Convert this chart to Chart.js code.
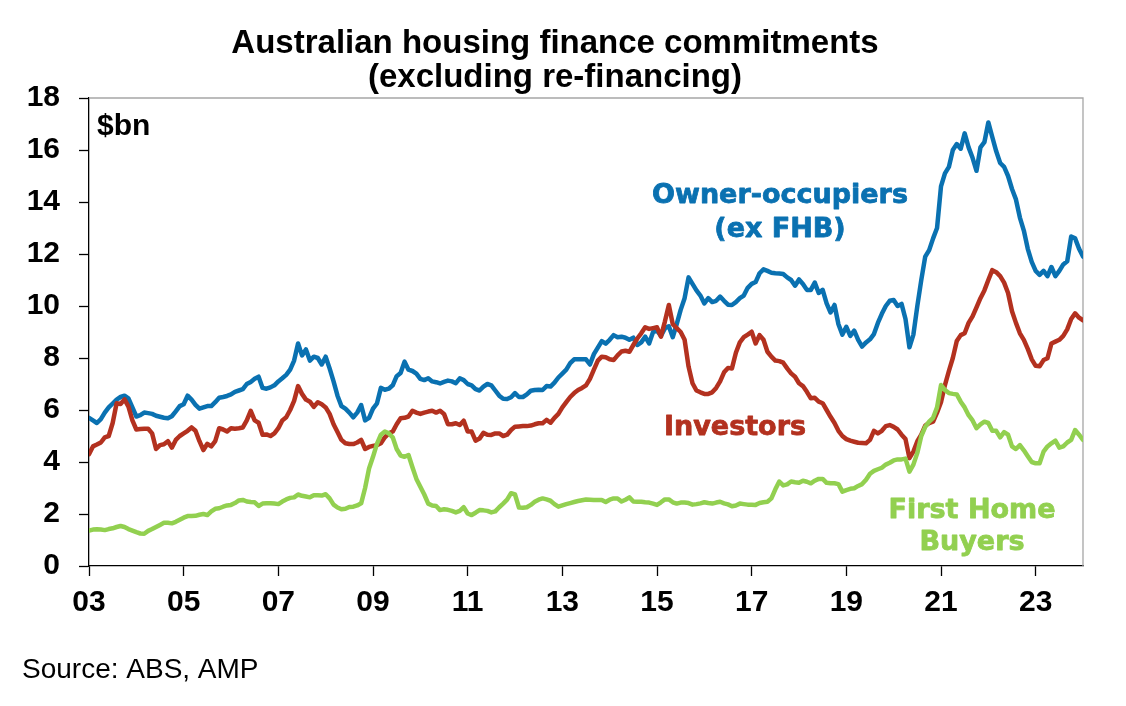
<!DOCTYPE html>
<html>
<head>
<meta charset="utf-8">
<script src="https://cdn.jsdelivr.net/npm/chart.js@4.4.1/dist/chart.umd.min.js"></script>
<style>
  html, body { margin: 0; padding: 0; background: #ffffff; }
  #wrap { width: 1126px; height: 706px; position: relative; }
</style>
</head>
<body>
<div id="wrap"><canvas id="chart" width="1126" height="706"></canvas></div>
<script>
// ---- Data (monthly, Jan 2003 .. Jan 2024, $bn) ----
const startYear = 2003;
const xTickYears = [2003, 2005, 2007, 2009, 2011, 2013, 2015, 2017, 2019, 2021, 2023];
const yTickValues = [0, 2, 4, 6, 8, 10, 12, 14, 16, 18];

const titleLines = ['Australian housing finance commitments', '(excluding re-financing)'];
const seriesNames = ['Owner-occupiers (ex FHB)', 'Investors', 'First Home Buyers'];

const ownerOccupiers = [
  5.7,5.6,5.5,5.65,5.9,6.1,6.25,6.4,6.5,6.55,6.45,6.1,
  5.75,5.8,5.9,5.88,5.85,5.78,5.74,5.7,5.68,5.76,5.95,6.15,
  6.22,6.55,6.4,6.2,6.05,6.1,6.15,6.15,6.3,6.47,6.5,6.54,
  6.6,6.7,6.75,6.8,7.0,7.08,7.2,7.28,6.85,6.82,6.87,6.95,
  7.1,7.22,7.35,7.55,7.9,8.56,8.1,8.33,7.9,8.05,8.0,7.75,
  8.05,7.6,7.1,6.55,6.15,6.05,5.9,5.72,5.9,6.19,5.6,5.7,
  6.05,6.25,6.85,6.78,6.82,6.95,7.3,7.42,7.86,7.55,7.5,7.4,
  7.2,7.15,7.22,7.1,7.07,7.02,7.08,7.13,7.1,7.03,7.22,7.15,
  7.0,6.95,6.8,6.75,6.9,7.0,6.95,6.75,6.55,6.43,6.42,6.49,
  6.65,6.5,6.5,6.6,6.74,6.77,6.78,6.77,6.92,6.9,7.05,7.25,
  7.4,7.55,7.8,7.95,7.95,7.95,7.95,7.75,8.15,8.4,8.65,8.55,
  8.7,8.88,8.8,8.82,8.78,8.7,8.78,8.5,8.6,8.82,8.56,9.0,
  9.05,8.85,9.14,9.22,8.8,9.3,9.85,10.3,11.1,10.85,10.6,10.4,
  10.1,10.3,10.15,10.2,10.36,10.2,10.05,10.04,10.15,10.3,10.4,10.7,
  10.85,10.92,11.26,11.41,11.35,11.28,11.26,11.25,11.23,11.1,11.0,10.78,
  11.02,10.85,10.62,10.62,10.9,10.5,10.62,10.1,9.75,10.04,9.3,8.9,
  9.2,8.85,9.05,8.7,8.44,8.6,8.72,8.92,9.35,9.7,10.0,10.2,
  10.23,10.0,10.08,9.5,8.41,8.9,10.0,11.0,11.9,12.15,12.6,13.0,
  14.6,15.1,15.35,16.0,16.23,16.05,16.64,16.1,15.7,15.2,16.1,16.3,
  17.06,16.5,15.95,15.5,15.35,15.0,14.5,14.1,13.4,12.9,12.2,11.7,
  11.35,11.2,11.35,11.15,11.5,11.15,11.35,11.6,11.72,12.67,12.6,12.2,
  11.9
];

const investors = [
  4.3,4.6,4.67,4.75,4.95,5.0,5.5,6.26,6.23,6.41,6.13,5.6,
  5.25,5.27,5.28,5.28,5.1,4.5,4.65,4.68,4.8,4.55,4.85,5.0,
  5.1,5.2,5.33,5.2,4.8,4.46,4.7,4.6,4.8,5.3,5.25,5.17,
  5.3,5.28,5.3,5.33,5.6,5.97,5.6,5.51,5.05,5.06,5.0,5.1,
  5.3,5.6,5.72,6.0,6.35,6.92,6.62,6.4,6.32,6.12,6.3,6.22,
  6.1,5.85,5.45,5.15,4.85,4.72,4.69,4.69,4.75,4.85,4.5,4.58,
  4.62,4.65,4.72,4.95,5.1,5.17,5.45,5.68,5.7,5.75,5.97,5.9,
  5.85,5.9,5.94,5.97,5.9,5.97,5.85,5.45,5.45,5.49,5.42,5.59,
  5.17,5.17,4.82,4.9,5.12,5.05,5.04,5.1,5.1,5.0,5.05,5.23,
  5.36,5.37,5.38,5.38,5.4,5.45,5.49,5.49,5.62,5.51,5.7,5.85,
  6.1,6.3,6.5,6.65,6.77,6.85,6.95,7.2,7.55,7.9,8.05,8.03,
  7.95,7.92,8.1,8.25,8.28,8.24,8.5,8.75,8.95,9.18,9.12,9.15,
  9.18,8.82,9.4,10.04,9.3,9.15,9.0,8.7,7.67,7.03,6.75,6.68,
  6.62,6.62,6.68,6.85,7.1,7.45,7.62,7.6,8.2,8.6,8.8,8.9,
  9.01,8.56,8.88,8.7,8.24,8.05,7.9,7.88,7.82,7.6,7.41,7.28,
  7.03,6.92,6.7,6.45,6.47,6.32,6.26,6.0,5.74,5.5,5.2,5.0,
  4.88,4.82,4.78,4.74,4.73,4.72,4.85,5.2,5.1,5.2,5.38,5.42,
  5.35,5.25,5.05,4.88,4.15,4.4,4.8,5.05,5.4,5.5,5.55,5.9,
  6.3,6.96,7.5,8.0,8.65,8.88,8.95,9.35,9.6,9.95,10.3,10.6,
  11.0,11.38,11.3,11.15,10.9,10.5,9.8,9.35,8.95,8.7,8.35,7.95,
  7.7,7.68,7.92,7.99,8.56,8.63,8.7,8.85,9.1,9.5,9.72,9.55,
  9.45
];

const firstHomeBuyers = [
  1.36,1.4,1.41,1.4,1.38,1.42,1.45,1.5,1.54,1.5,1.42,1.36,
  1.3,1.25,1.24,1.35,1.42,1.5,1.58,1.66,1.66,1.64,1.7,1.78,
  1.86,1.92,1.92,1.93,1.97,2.0,1.96,2.1,2.2,2.22,2.28,2.33,
  2.35,2.42,2.52,2.54,2.48,2.46,2.45,2.31,2.4,2.41,2.41,2.4,
  2.38,2.48,2.56,2.62,2.64,2.75,2.7,2.67,2.64,2.72,2.72,2.71,
  2.76,2.6,2.36,2.25,2.18,2.2,2.27,2.28,2.33,2.41,3.0,3.75,
  4.2,4.7,5.05,5.17,5.1,4.95,4.5,4.25,4.2,4.27,3.8,3.35,
  3.05,2.75,2.4,2.33,2.31,2.15,2.18,2.16,2.12,2.06,2.12,2.26,
  2.02,1.96,2.05,2.15,2.14,2.12,2.06,2.1,2.26,2.4,2.55,2.8,
  2.75,2.25,2.24,2.26,2.35,2.47,2.55,2.6,2.56,2.51,2.38,2.28,
  2.33,2.38,2.42,2.46,2.5,2.53,2.56,2.55,2.54,2.54,2.54,2.46,
  2.55,2.6,2.6,2.48,2.55,2.64,2.48,2.47,2.47,2.45,2.44,2.4,
  2.35,2.45,2.56,2.56,2.45,2.4,2.44,2.44,2.42,2.36,2.38,2.41,
  2.45,2.42,2.4,2.44,2.47,2.41,2.37,2.3,2.33,2.4,2.38,2.36,
  2.36,2.35,2.42,2.45,2.47,2.6,2.95,3.25,3.1,3.14,3.25,3.22,
  3.2,3.28,3.24,3.18,3.28,3.35,3.35,3.2,3.18,3.18,3.15,2.86,
  2.92,2.97,2.99,3.08,3.15,3.32,3.55,3.66,3.72,3.78,3.9,3.97,
  4.06,4.1,4.1,4.13,3.63,3.9,4.35,5.0,5.35,5.55,5.7,6.1,
  6.96,6.77,6.65,6.62,6.6,6.32,6.1,5.8,5.6,5.3,5.45,5.55,
  5.5,5.2,5.2,4.95,5.15,5.05,4.6,4.5,4.65,4.45,4.22,4.0,
  3.95,3.95,4.4,4.6,4.72,4.82,4.55,4.6,4.75,4.85,5.23,5.05,
  4.85
];

// ---- Styling ----
const COLORS = { owner: '#0A71B1', investors: '#B3311F', fhb: '#92D050' };
const ARIAL = '"Liberation Sans", Arial, Helvetica, sans-serif';
const LABEL_FONT = '"DejaVu Sans", Verdana, sans-serif';

function toPoints(values) {
  return values.map((v, i) => ({ x: startYear + i / 12, y: v }));
}

function heavyText(ctx, text, x, y, color) {
  ctx.fillStyle = color;
  ctx.strokeStyle = color;
  ctx.lineWidth = 0.8;
  ctx.lineJoin = 'round';
  ctx.fillText(text, x, y);
  ctx.strokeText(text, x, y);
}

const frameAndTextPlugin = {
  id: 'frameAndText',
  beforeDatasetsDraw(chart) {
    const { ctx, chartArea: a } = chart;
    ctx.save();
    ctx.strokeStyle = '#A6A6A6';
    ctx.lineWidth = 1.3;
    ctx.beginPath();
    ctx.moveTo(a.left, a.top);
    ctx.lineTo(a.right, a.top);
    ctx.lineTo(a.right, a.bottom);
    ctx.stroke();
    ctx.restore();
  },
  afterDraw(chart) {
    const { ctx } = chart;
    ctx.save();
    ctx.textBaseline = 'alphabetic';
    // Title
    ctx.fillStyle = '#000000';
    ctx.textAlign = 'center';
    ctx.font = 'bold 33px ' + ARIAL;
    ctx.fillText(titleLines[0], 555, 53);
    ctx.fillText(titleLines[1], 555, 87);
    // Unit label
    ctx.textAlign = 'left';
    ctx.font = 'bold 30px ' + ARIAL;
    ctx.fillText('$bn', 97, 135);
    // Series labels
    ctx.textAlign = 'center';
    ctx.font = 'bold 27px ' + LABEL_FONT;
    heavyText(ctx, 'Owner-occupiers', 780, 203, COLORS.owner);
    heavyText(ctx, '(ex FHB)', 780, 237, COLORS.owner);
    heavyText(ctx, 'Investors', 735, 435, COLORS.investors);
    heavyText(ctx, 'First Home', 972, 518, COLORS.fhb);
    heavyText(ctx, 'Buyers', 972, 550, COLORS.fhb);
    // Source
    ctx.textAlign = 'left';
    ctx.fillStyle = '#000000';
    ctx.font = '28px ' + ARIAL;
    ctx.fillText('Source: ABS, AMP', 22, 678);
    ctx.restore();
  }
};

const lineStyle = {
  borderWidth: 4.5,
  pointRadius: 0,
  pointHoverRadius: 0,
  tension: 0,
  fill: false,
  borderJoinStyle: 'round',
  borderCapStyle: 'round'
};

new Chart(document.getElementById('chart'), {
  type: 'line',
  data: {
    datasets: [
      Object.assign({ label: seriesNames[2], data: toPoints(firstHomeBuyers), borderColor: COLORS.fhb }, lineStyle),
      Object.assign({ label: seriesNames[1], data: toPoints(investors), borderColor: COLORS.investors }, lineStyle),
      Object.assign({ label: seriesNames[0], data: toPoints(ownerOccupiers), borderColor: COLORS.owner }, lineStyle)
    ]
  },
  options: {
    responsive: false,
    animation: false,
    devicePixelRatio: 1,
    layout: { padding: { top: 98, right: 43, bottom: 86, left: 0 } },
    plugins: {
      legend: { display: false },
      title: { display: false },
      tooltip: { enabled: false }
    },
    scales: {
      x: {
        type: 'linear',
        min: 2003,
        max: 2024,
        afterBuildTicks: s => { s.ticks = xTickYears.map(v => ({ value: v })); },
        afterFit: s => { s.height = 54; },
        ticks: {
          autoSkip: false,
          maxRotation: 0,
          padding: 9,
          color: '#000000',
          font: { family: ARIAL, size: 30, weight: 'bold' },
          callback: v => String(Math.round(v) % 100).padStart(2, '0')
        },
        grid: { drawOnChartArea: false, drawTicks: true, tickLength: 10, tickColor: '#000000', tickWidth: 1.3 },
        border: { display: true, color: '#000000', width: 1.3 }
      },
      y: {
        min: 0,
        max: 18,
        afterBuildTicks: s => { s.ticks = yTickValues.map(v => ({ value: v })); },
        afterFit: s => { s.width = 89; },
        ticks: {
          padding: 19,
          color: '#000000',
          font: { family: ARIAL, size: 30, weight: 'bold' }
        },
        grid: { drawOnChartArea: false, drawTicks: true, tickLength: 10, tickColor: '#000000', tickWidth: 1.3 },
        border: { display: true, color: '#000000', width: 1.3 }
      }
    }
  },
  plugins: [frameAndTextPlugin]
});
</script>
</body>
</html>
